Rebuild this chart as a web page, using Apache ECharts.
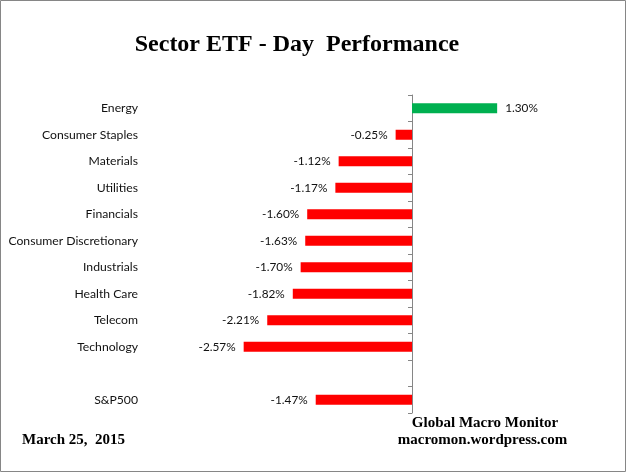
<!DOCTYPE html>
<html>
<head>
<meta charset="utf-8">
<script src="https://cdn.jsdelivr.net/npm/echarts@6/dist/echarts.min.js"></script>
<style>
  html, body { margin: 0; padding: 0; background: #fff; }
  #chart { width: 626px; height: 472px; }
</style>
</head>
<body>
<div id="chart"></div>
<script>
// sectors top to bottom, blank row before the index
const sectors = ['Energy', 'Consumer Staples', 'Materials', 'Utilities', 'Financials',
  'Consumer Discretionary', 'Industrials', 'Health Care', 'Telecom', 'Technology', '', 'S&P500'];
const dayChange = [1.30, -0.25, -1.12, -1.17, -1.60, -1.63, -1.70, -1.82, -2.21, -2.57, null, -1.47];

const chartTitle = 'Sector ETF - Day  Performance';
const dateText = 'March 25,  2015';
const sourceLines = ['Global Macro Monitor', 'macromon.wordpress.com'];

const upColor = '#00B050';
const downColor = '#FF0000';

const barData = dayChange.map(v => {
  if (v == null) return '-';
  return {
    value: v,
    itemStyle: { color: v >= 0 ? upColor : downColor },
    label: { position: v >= 0 ? 'right' : 'left' }
  };
});

const myChart = echarts.init(document.getElementById('chart'));

const option = {
  animation: false,
  grid: { left: 150, right: 83, top: 95, bottom: 59 },
  xAxis: {
    type: 'value',
    min: -4,
    max: 2,
    show: false
  },
  yAxis: [
    {
      type: 'category',
      data: sectors,
      inverse: true,
      position: 'left',
      axisLine: { show: false, onZero: false },
      axisTick: { show: false },
      axisLabel: {
        margin: 12,
        color: '#111',
        fontFamily: 'Lato',
        fontSize: 12.2
      }
    },
    {
      type: 'category',
      data: sectors,
      inverse: true,
      position: 'left',
      axisLine: { show: true, onZero: true, lineStyle: { color: '#868686', width: 1 } },
      axisTick: { show: true, length: 4, lineStyle: { color: '#868686' } },
      axisLabel: { show: false },
      splitLine: { show: false }
    }
  ],
  series: [
    {
      type: 'bar',
      yAxisIndex: 0,
      data: barData,
      barWidth: 10,
      label: {
        show: true,
        distance: 8,
        color: '#111',
        fontFamily: 'Lato',
        fontSize: 11.8,
        formatter: p => p.value.toFixed(2) + '%'
      }
    }
  ],
  graphic: [
    {
      type: 'rect',
      shape: { x: 0.5, y: 0.5, width: 625, height: 471 },
      style: { fill: 'none', stroke: '#868686', lineWidth: 1 },
      silent: true
    },
    {
      type: 'text',
      x: 297, y: 45,
      style: {
        text: chartTitle,
        fill: '#000',
        font: 'bold 24px "Liberation Serif"',
        textAlign: 'center',
        textVerticalAlign: 'middle'
      }
    },
    {
      type: 'text',
      x: 485, y: 423,
      style: {
        text: sourceLines[0],
        fill: '#000',
        font: 'bold 15px "Liberation Serif"',
        textAlign: 'center',
        textVerticalAlign: 'middle'
      }
    },
    {
      type: 'text',
      x: 482.5, y: 440,
      style: {
        text: sourceLines[1],
        fill: '#000',
        font: 'bold 15px "Liberation Serif"',
        textAlign: 'center',
        textVerticalAlign: 'middle'
      }
    },
    {
      type: 'text',
      x: 22, y: 440.5,
      style: {
        text: dateText,
        fill: '#000',
        font: 'bold 15px "Liberation Serif"',
        textAlign: 'left',
        textVerticalAlign: 'middle'
      }
    }
  ]
};
myChart.setOption(option);
</script>
</body>
</html>
